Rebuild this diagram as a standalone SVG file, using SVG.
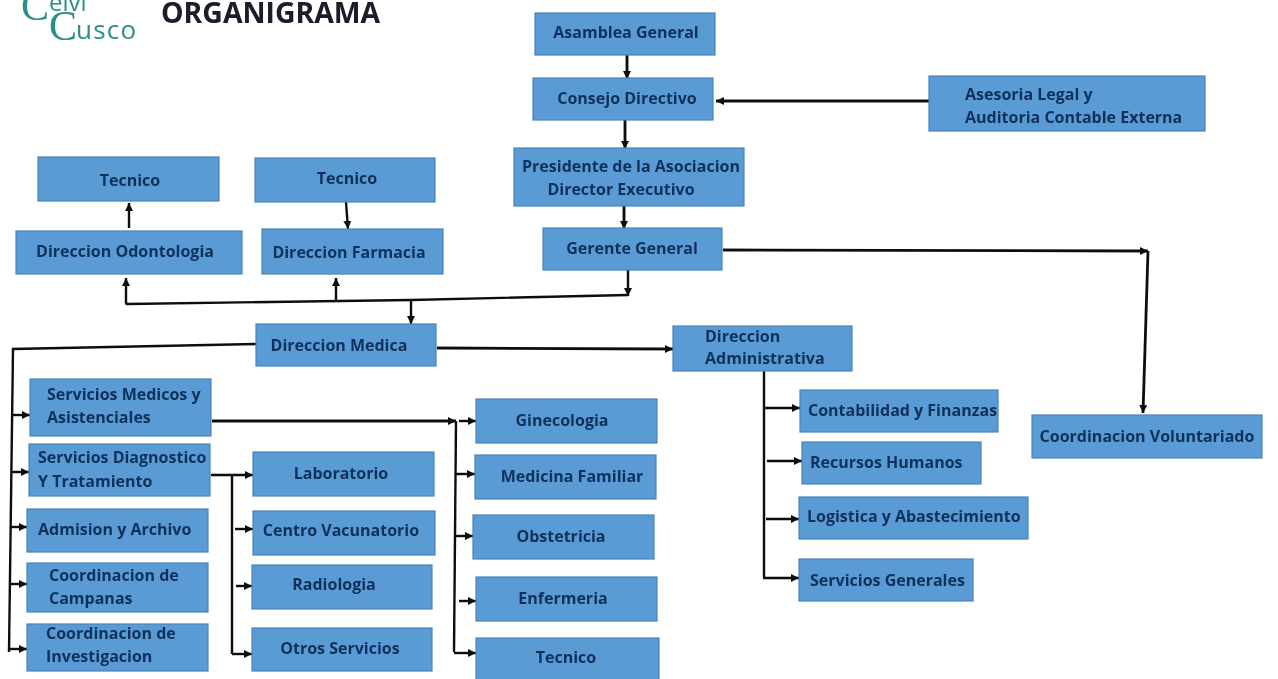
<svg xmlns="http://www.w3.org/2000/svg" width="1278" height="679" viewBox="0 0 1278 679">
<style>
.n rect{fill:#5b9bd5;stroke:#4a84b8;stroke-width:1.2}
.n text{font-family:"Open Sans","Noto Sans",sans-serif;font-weight:700;font-size:16px;fill:#10305a;filter:url(#b)}
.m{text-anchor:middle}
.c{filter:url(#b)}
.c path{fill:none;stroke:#111;stroke-width:2.4;marker-end:url(#a)}
.c path.p{marker-end:none}
.c path.t{stroke-width:2.8}
</style>
<defs>
<marker id="a" markerUnits="userSpaceOnUse" markerWidth="10" markerHeight="10" refX="8" refY="5" orient="auto"><path d="M0 1 L8 5 L0 9 Z" fill="#111"/></marker>
<filter id="b" x="-5%" y="-20%" width="110%" height="140%"><feGaussianBlur stdDeviation="0.35"/></filter>
</defs>
<rect width="1278" height="679" fill="#fff"/>
<g id="logo" fill="#2a8f86" filter="url(#b)">
<text x="21" y="20" font-size="42" font-family="Liberation Serif,serif">C</text>
<text x="49" y="11" font-size="24" font-family="Open Sans,sans-serif">elvi</text>
<text x="49" y="40" font-size="42" font-family="Liberation Serif,serif">C</text>
<text x="76" y="39" font-size="26" letter-spacing="1.2" font-family="Open Sans,sans-serif">usco</text>
</g>
<text id="title" x="161" y="23" font-family="Open Sans,sans-serif" font-weight="700" font-size="28.4" fill="#1a1a2a" filter="url(#b)">ORGANIGRAMA</text>

<g id="connectors" class="c">
<path class="t" d="M627 55V79"/>
<path class="t" d="M625 120V149"/>
<path class="t" d="M624 206V229"/>
<path class="t" d="M929 101H716"/>
<path class="t" d="M723 250L1148 251"/>
<path class="t" d="M1148 251L1143 413"/>
<path d="M628 270V296"/>
<path class="p" d="M628 295L411 300L127 304Q126 304 126 302"/>
<path d="M126 303V278"/>
<path d="M336 300V278"/>
<path d="M411 300V324"/>
<path d="M129 228V203"/>
<path d="M346 202L348 229"/>
<path class="p" d="M256 344L13 349L9 652"/>
<path class="t" d="M437 348L673 349"/>
<path d="M12 415H30"/><path d="M11 472H29"/><path d="M11 527H27"/><path d="M10 584H27"/><path d="M9 649H27"/>
<path class="t" d="M212 421H456"/>
<path d="M459 421H476"/><path d="M456 474H475"/><path d="M455 536H473"/><path d="M459 601H476"/>
<path class="p" d="M456 421L454 652"/>
<path d="M454 653H476"/>
<path d="M211 475H253"/>
<path class="p" d="M232 476V654"/>
<path d="M235 529H253"/><path d="M236 586H252"/><path d="M232 654H252"/>
<path class="p" d="M764 370V577"/>
<path d="M764 408H800"/><path d="M767 461H802"/><path d="M766 519H799"/>
<path d="M763 578H799"/>
</g>

<g id="n1" class="n"><rect x="535" y="13" width="180" height="42"/><text class="m" x="626" y="38">Asamblea General</text></g>
<g id="n2" class="n"><rect x="533" y="78" width="180" height="42"/><text class="m" x="627" y="104">Consejo Directivo</text></g>
<g id="n3" class="n"><rect x="929" y="76" width="276" height="55"/><text x="965" y="100">Asesoria Legal y</text><text x="965" y="123">Auditoria Contable Externa</text></g>
<g id="n4" class="n"><rect x="514" y="148" width="230" height="58"/><text class="m" x="631" y="172">Presidente de la Asociacion</text><text class="m" x="621" y="195">Director Executivo</text></g>
<g id="n5" class="n"><rect x="543" y="228" width="179" height="42"/><text class="m" x="632" y="254">Gerente General</text></g>
<g id="n6" class="n"><rect x="38" y="157" width="181" height="44"/><text class="m" x="130" y="186">Tecnico</text></g>
<g id="n7" class="n"><rect x="255" y="158" width="180" height="44"/><text class="m" x="347" y="184">Tecnico</text></g>
<g id="n8" class="n"><rect x="16" y="231" width="226" height="43"/><text class="m" x="125" y="257">Direccion Odontologia</text></g>
<g id="n9" class="n"><rect x="262" y="229" width="181" height="45"/><text class="m" x="349" y="258">Direccion Farmacia</text></g>
<g id="n10" class="n"><rect x="256" y="324" width="180" height="42"/><text class="m" x="339" y="351">Direccion Medica</text></g>
<g id="n11" class="n"><rect x="673" y="326" width="179" height="45"/><text x="705" y="342">Direccion</text><text x="705" y="364">Administrativa</text></g>
<g id="n12" class="n"><rect x="30" y="379" width="181" height="57"/><text x="47" y="400">Servicios Medicos y</text><text x="47" y="423">Asistenciales</text></g>
<g id="n13" class="n"><rect x="29" y="444" width="181" height="52"/><text x="38" y="463">Servicios Diagnostico</text><text x="38" y="487">Y Tratamiento</text></g>
<g id="n14" class="n"><rect x="27" y="509" width="181" height="43"/><text x="38" y="535">Admision y Archivo</text></g>
<g id="n15" class="n"><rect x="27" y="563" width="181" height="49"/><text x="49" y="581">Coordinacion de</text><text x="49" y="604">Campanas</text></g>
<g id="n16" class="n"><rect x="27" y="624" width="181" height="47"/><text x="46" y="639">Coordinacion de</text><text x="46" y="662">Investigacion</text></g>
<g id="n17" class="n"><rect x="253" y="452" width="181" height="44"/><text class="m" x="341" y="479">Laboratorio</text></g>
<g id="n18" class="n"><rect x="253" y="511" width="182" height="44"/><text class="m" x="341" y="536">Centro Vacunatorio</text></g>
<g id="n19" class="n"><rect x="252" y="565" width="180" height="44"/><text class="m" x="334" y="590">Radiologia</text></g>
<g id="n20" class="n"><rect x="252" y="628" width="180" height="43"/><text class="m" x="340" y="654">Otros Servicios</text></g>
<g id="n21" class="n"><rect x="476" y="399" width="181" height="44"/><text class="m" x="562" y="426">Ginecologia</text></g>
<g id="n22" class="n"><rect x="475" y="455" width="181" height="44"/><text class="m" x="572" y="482">Medicina Familiar</text></g>
<g id="n23" class="n"><rect x="473" y="515" width="181" height="44"/><text class="m" x="561" y="542">Obstetricia</text></g>
<g id="n24" class="n"><rect x="476" y="577" width="181" height="44"/><text class="m" x="563" y="604">Enfermeria</text></g>
<g id="n25" class="n"><rect x="476" y="638" width="183" height="42"/><text class="m" x="566" y="663">Tecnico</text></g>
<g id="n26" class="n"><rect x="800" y="390" width="198" height="42"/><text x="808" y="416">Contabilidad y Finanzas</text></g>
<g id="n27" class="n"><rect x="802" y="442" width="179" height="42"/><text x="810" y="468">Recursos Humanos</text></g>
<g id="n28" class="n"><rect x="799" y="497" width="229" height="42"/><text x="807" y="522">Logistica y Abastecimiento</text></g>
<g id="n29" class="n"><rect x="799" y="559" width="174" height="42"/><text x="810" y="586">Servicios Generales</text></g>
<g id="n30" class="n"><rect x="1032" y="415" width="230" height="43"/><text class="m" x="1147" y="442">Coordinacion Voluntariado</text></g>
</svg>
